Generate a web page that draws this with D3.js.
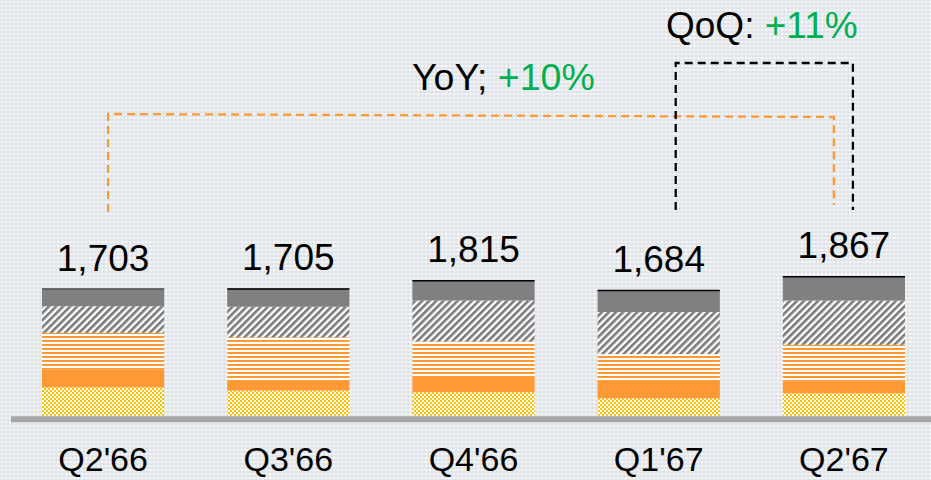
<!DOCTYPE html>
<html>
<head>
<meta charset="utf-8">
<script src="https://cdn.jsdelivr.net/npm/d3@7"></script>
<style>
  body { margin: 0; padding: 0; overflow: hidden; }
  text { font-family: Arial, "Liberation Sans", sans-serif; }
</style>
</head>
<body>
<script>
// quarterly totals, stacked by segment (bottom to top)
var quarters = ["Q2'66", "Q3'66", "Q4'66", "Q1'67", "Q2'67"];
var totals = [1703, 1705, 1815, 1684, 1867];
var segYellow = [380, 336, 315, 233, 301];
var segOrange = [241, 130, 219, 233, 156];
var segStripe = [490, 584, 461, 359, 493];
var segHatch = [356, 409, 548, 563, 592];
var segGrey = [236, 246, 272, 296, 325];
var yoyText = ["YoY; ", "+10%"];
var qoqText = ["QoQ: ", "+11%"];

var width = 931, height = 480;
var baseY = 415.7;

var svg = d3.select("body").append("svg")
    .attr("width", width)
    .attr("height", height);

var defs = svg.append("defs");

// background dotted texture
var bg = defs.append("pattern").attr("id", "bg")
    .attr("patternUnits", "userSpaceOnUse").attr("width", 4).attr("height", 4);
bg.append("rect").attr("width", 4).attr("height", 4).attr("fill", "#e2e6ea");
bg.append("rect").attr("x", 1).attr("y", 1).attr("width", 2.4).attr("height", 2).attr("fill", "#f8f9fb");

var checker = defs.append("pattern").attr("id", "checker")
    .attr("patternUnits", "userSpaceOnUse").attr("width", 4).attr("height", 4);
checker.append("rect").attr("width", 4).attr("height", 4).attr("fill", "#fff");
checker.append("rect").attr("width", 2).attr("height", 2).attr("fill", "#ffc000");
checker.append("rect").attr("x", 2).attr("y", 2).attr("width", 2).attr("height", 2).attr("fill", "#ffc000");

var stripe = defs.append("pattern").attr("id", "stripe")
    .attr("patternUnits", "userSpaceOnUse").attr("width", 4).attr("height", 4);
stripe.append("rect").attr("width", 4).attr("height", 4).attr("fill", "#fff");
stripe.append("rect").attr("width", 4).attr("height", 2).attr("fill", "#ff9933");

var hatch = defs.append("pattern").attr("id", "hatch")
    .attr("patternUnits", "userSpaceOnUse").attr("width", 5).attr("height", 5)
    .attr("patternTransform", "rotate(45)");
hatch.append("rect").attr("width", 5).attr("height", 5).attr("fill", "#fff");
hatch.append("rect").attr("width", 2.6).attr("height", 5).attr("fill", "#7a7a7a");

svg.append("rect").attr("width", width).attr("height", height).attr("fill", "url(#bg)");

// scales
var xScale = d3.scaleBand()
    .domain(quarters)
    .range([10.5, 936.5])
    .paddingInner(0.34)
    .paddingOuter(0.17);

var yScale = d3.scaleLinear()
    .domain([0, 1867])
    .range([baseY, 276.3]);

var rows = quarters.map(function(q, i) {
    return {q: q, yellow: segYellow[i], orange: segOrange[i], stripe: segStripe[i],
            hatch: segHatch[i], grey: segGrey[i], total: totals[i]};
});

var keys = ["yellow", "orange", "stripe", "hatch", "grey"];
var fills = {yellow: "url(#checker)", orange: "#ff9933", stripe: "url(#stripe)",
             hatch: "url(#hatch)", grey: "#808080"};

var stacked = d3.stack().keys(keys)(rows);

svg.selectAll(".layer")
    .data(stacked)
    .enter().append("g")
    .attr("class", "layer")
    .attr("fill", function(d) { return fills[d.key]; })
    .selectAll("rect")
    .data(function(d) { return d; })
    .enter().append("rect")
    .attr("x", function(d) { return xScale(d.data.q); })
    .attr("width", xScale.bandwidth())
    .attr("y", function(d) { return yScale(d[1]); })
    .attr("height", function(d) { return yScale(d[0]) - yScale(d[1]); });

// thin line marking the total on top of each bar
svg.selectAll(".topline")
    .data(rows)
    .enter().append("line")
    .attr("class", "topline")
    .attr("x1", function(d) { return xScale(d.q); })
    .attr("x2", function(d) { return xScale(d.q) + xScale.bandwidth(); })
    .attr("y1", function(d) { return yScale(d.total) + 0.5; })
    .attr("y2", function(d) { return yScale(d.total) + 0.5; })
    .attr("stroke", function(d, i) { return i === 0 ? "#555" : "#000"; })
    .attr("stroke-width", 1.5);

// total labels
svg.selectAll(".total")
    .data(rows)
    .enter().append("text")
    .attr("class", "total")
    .attr("x", function(d) { return xScale(d.q) + xScale.bandwidth() / 2; })
    .attr("y", function(d) { return yScale(d.total) - 18; })
    .attr("text-anchor", "middle")
    .attr("font-size", 37)
    .attr("fill", "#000")
    .text(function(d) { return d3.format(",")(d.total); });

// x axis
var xAxis = d3.axisBottom(xScale).tickSize(0).tickSizeOuter(0);
var axisG = svg.append("g")
    .attr("transform", "translate(0," + (baseY + 3) + ")")
    .call(xAxis);
axisG.select(".domain").attr("stroke", "#a6a6a6").attr("stroke-width", 6);
axisG.selectAll("text")
    .attr("y", 52.3)
    .attr("dy", 0)
    .attr("font-size", 34)
    .attr("font-family", "Arial, 'Liberation Sans', sans-serif")
    .attr("fill", "#000");

// YoY / QoQ brackets
var c0 = xScale(quarters[0]) + xScale.bandwidth() / 2;
var c3 = xScale(quarters[3]) + xScale.bandwidth() / 2;
var c4 = xScale(quarters[4]) + xScale.bandwidth() / 2;

svg.append("path")
    .attr("d", d3.line()([[c0 + 5, 212], [c0 + 5, 114], [c4 - 10, 117], [c4 - 10, 205]]))
    .attr("fill", "none")
    .attr("stroke", "#ff9933")
    .attr("stroke-width", 2.3)
    .attr("stroke-dasharray", "8,5");

svg.append("path")
    .attr("d", d3.line()([[c3 + 17, 210], [c3 + 17, 63], [c4 + 9, 63], [c4 + 9, 210]]))
    .attr("fill", "none")
    .attr("stroke", "#000")
    .attr("stroke-width", 2.3)
    .attr("stroke-dasharray", "8,5");

var yoy = svg.append("text")
    .attr("x", 412)
    .attr("y", 90)
    .attr("font-size", 37.5);
yoy.append("tspan").attr("fill", "#000").text(yoyText[0]);
yoy.append("tspan").attr("fill", "#00b050").text(yoyText[1]);

var qoq = svg.append("text")
    .attr("x", 666)
    .attr("y", 38)
    .attr("font-size", 37);
qoq.append("tspan").attr("fill", "#000").text(qoqText[0]);
qoq.append("tspan").attr("fill", "#00b050").text(qoqText[1]);
</script>
</body>
</html>
